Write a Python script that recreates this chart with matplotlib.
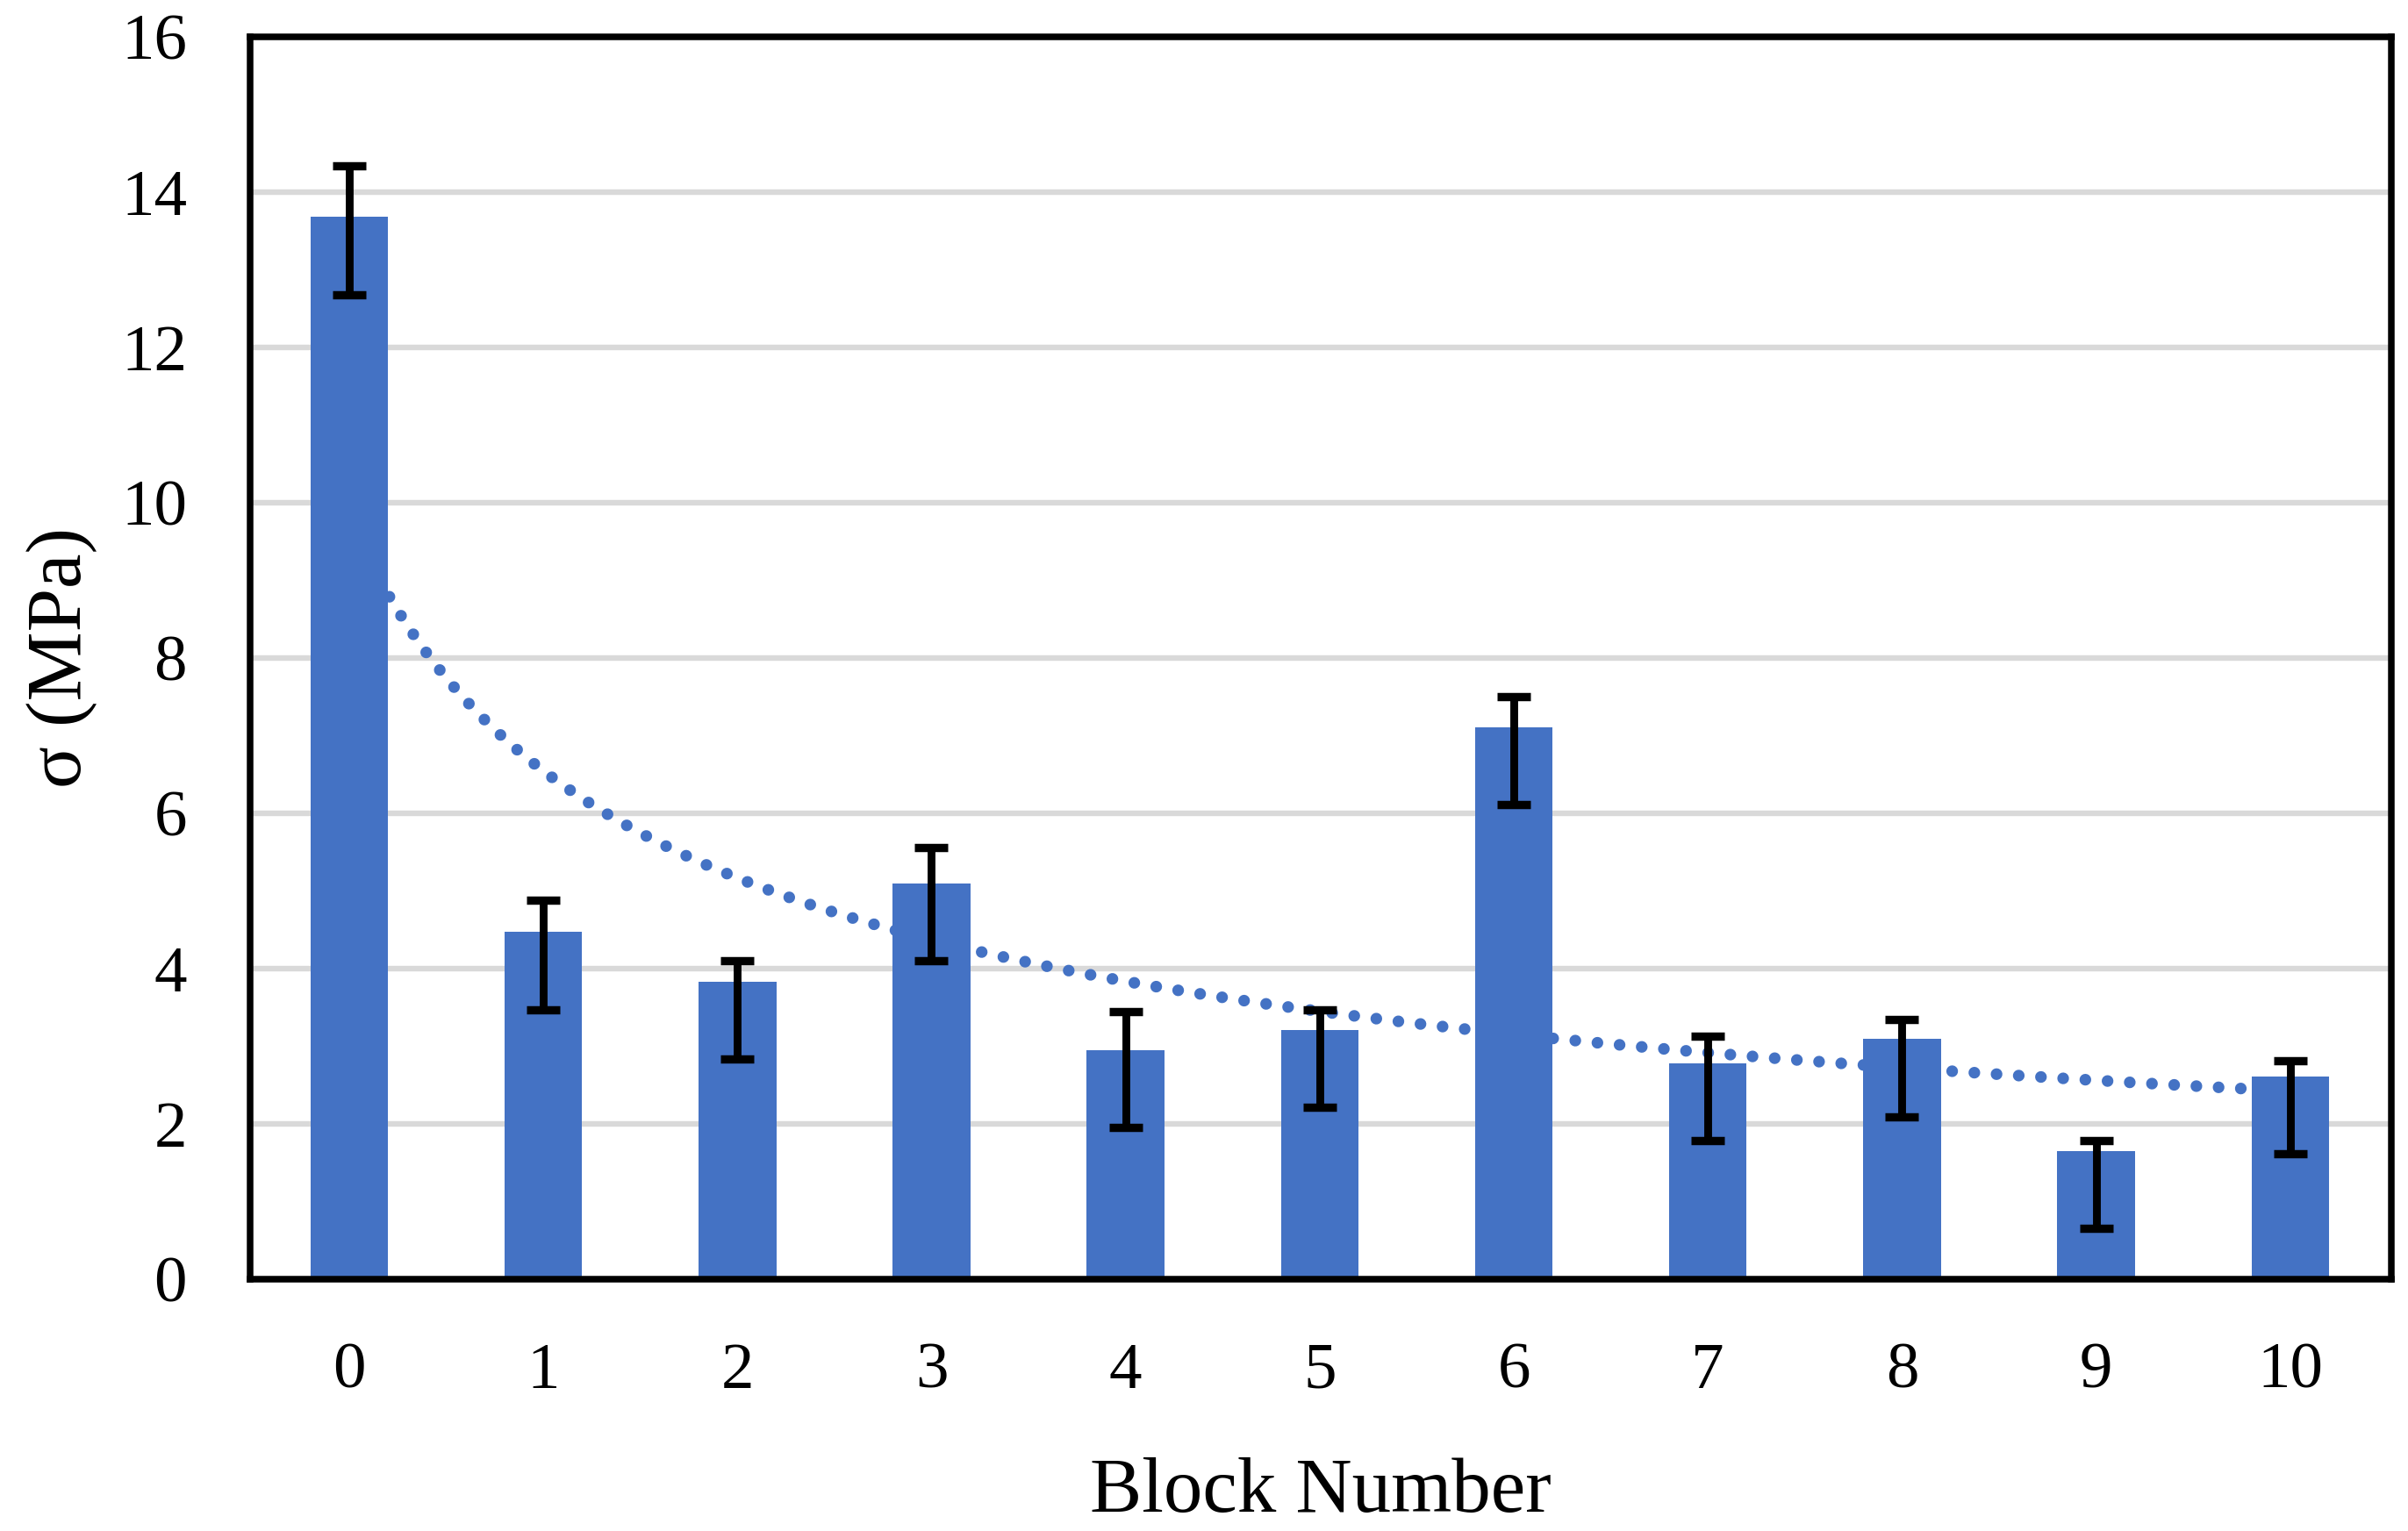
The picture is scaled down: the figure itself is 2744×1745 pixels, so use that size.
import matplotlib
matplotlib.use('Agg')
import matplotlib.pyplot as plt
import numpy as np

# Data
blocks = [0, 1, 2, 3, 4, 5, 6, 7, 8, 9, 10]
stress = [13.68, 4.47, 3.83, 5.10, 2.95, 3.21, 7.11, 2.78, 3.09, 1.65, 2.61]
err_low = [1.0, 1.0, 1.0, 1.0, 1.0, 1.0, 1.0, 1.0, 1.0, 1.0, 1.0]
err_high = [0.66, 0.41, 0.27, 0.46, 0.49, 0.26, 0.39, 0.35, 0.25, 0.13, 0.20]
y_ticks = [0, 2, 4, 6, 8, 10, 12, 14, 16]

BAR_COLOR = "#4472C4"
GRID_COLOR = "#D9D9D9"

plt.rcParams['font.family'] = ['Liberation Serif', 'DejaVu Serif']

fig = plt.figure(figsize=(13.72, 8.725), dpi=200)
ax = fig.add_axes([0.1039, 0.1645, 0.8891, 0.8115])

x = np.array(blocks)
ax.bar(x, stress, width=0.4, color=BAR_COLOR, zorder=2)

# Power trendline (Excel style, x = 1..n)
xi = x + 1
coef = np.polyfit(np.log(xi), np.log(stress), 1)
xs = np.linspace(xi.min(), xi.max(), 300)
ax.plot(xs - 1, np.exp(coef[1]) * xs ** coef[0], color=BAR_COLOR, lw=4.8,
        linestyle=(0, (0.001, 1.9)), dash_capstyle='round', zorder=3)

ax.errorbar(x, stress, yerr=[err_low, err_high], fmt='none', ecolor='black',
            elinewidth=3.2, capsize=6.9, capthick=3.4, zorder=4)

ax.set_xlim(-0.51, 10.52)
ax.set_ylim(0, 16)
ax.set_xticks(x)
ax.set_xticklabels([str(b) for b in blocks])
ax.set_yticks(y_ticks)
ax.tick_params(axis='both', length=0, labelsize=27)
ax.tick_params(axis='y', pad=26)
ax.tick_params(axis='x', pad=26)

ax.yaxis.grid(True, color=GRID_COLOR, linewidth=2.3, zorder=0)
ax.set_axisbelow(True)
for s in ax.spines.values():
    s.set_linewidth(2.7)
    s.set_color('black')
    s.set_zorder(5)

ax.set_xlabel('Block Number', fontsize=32)
ax.xaxis.label.set_va('center')
ax.xaxis.set_label_coords(0.5, -0.172)
ax.set_ylabel('σ (MPa)', fontsize=32)
ax.yaxis.label.set_va('center')
ax.yaxis.set_label_coords(-0.088, 0.5)

fig.savefig('out.png', dpi=200, facecolor='white')
